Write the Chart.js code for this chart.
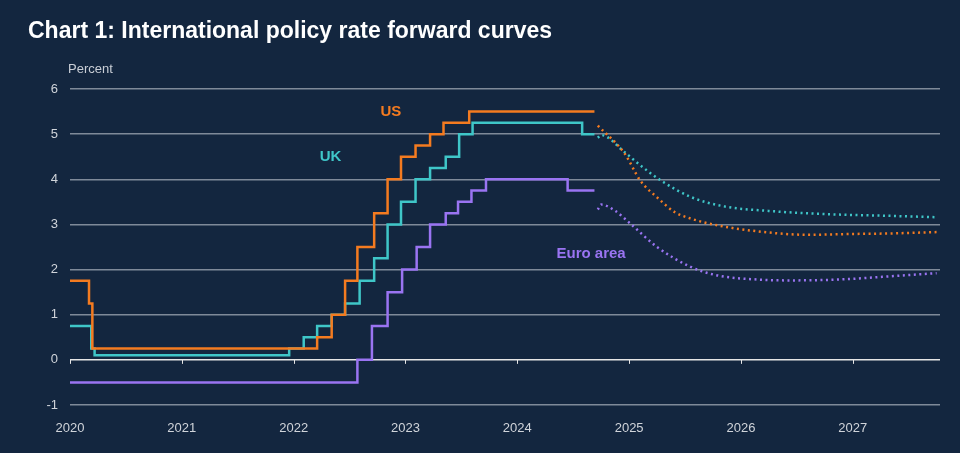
<!DOCTYPE html>
<html>
<head>
<meta charset="utf-8">
<script src="https://cdn.jsdelivr.net/npm/chart.js@4"></script>
<style>
  html, body { margin: 0; padding: 0; background: #13263f; }
  #wrap { width: 960px; height: 453px; }
</style>
</head>
<body>
<div id="wrap"><canvas id="ratesChart" width="960" height="453"></canvas></div>
<script>
'use strict';
// policy rates: [decimal year, rate] step start points
var usRates = [
    [2020.0, 1.75], [2020.17, 1.25], [2020.2, 0.25], [2022.21, 0.5], [2022.34, 1.0],
    [2022.46, 1.75], [2022.57, 2.5], [2022.72, 3.25], [2022.84, 4.0], [2022.96, 4.5],
    [2023.09, 4.75], [2023.22, 5.0], [2023.34, 5.25], [2023.57, 5.5], [2024.69, 5.5]
];
var ukRates = [
    [2020.0, 0.75], [2020.19, 0.25], [2020.22, 0.1], [2021.96, 0.25], [2022.09, 0.5],
    [2022.21, 0.75], [2022.34, 1.0], [2022.46, 1.25], [2022.59, 1.75], [2022.72, 2.25],
    [2022.84, 3.0], [2022.96, 3.5], [2023.09, 4.0], [2023.22, 4.25], [2023.36, 4.5],
    [2023.48, 5.0], [2023.6, 5.25], [2024.58, 5.0], [2024.69, 5.0]
];
var euroRates = [
    [2020.0, -0.5], [2022.57, 0.0], [2022.7, 0.75], [2022.84, 1.5], [2022.97, 2.0],
    [2023.1, 2.5], [2023.22, 3.0], [2023.36, 3.25], [2023.47, 3.5], [2023.59, 3.75],
    [2023.72, 4.0], [2024.45, 3.75], [2024.69, 3.75]
];
// market-implied forward curves
var usForward = [
    [2024.72, 5.19], [2024.96, 4.57], [2025.10, 3.97], [2025.25, 3.6], [2025.41, 3.27],
    [2025.55, 3.13], [2025.79, 2.98], [2026.14, 2.85], [2026.59, 2.77], [2027.03, 2.79],
    [2027.33, 2.8], [2027.75, 2.83]
];
var ukForward = [
    [2024.72, 4.92], [2024.75, 4.98], [2024.96, 4.6], [2025.1, 4.31], [2025.28, 3.98],
    [2025.55, 3.61], [2025.85, 3.4], [2026.3, 3.29], [2026.74, 3.23], [2027.33, 3.19],
    [2027.75, 3.16]
];
var euroForward = [
    [2024.72, 3.33], [2024.75, 3.44], [2024.87, 3.31], [2025.01, 3.02], [2025.25, 2.5],
    [2025.55, 2.06], [2025.79, 1.87], [2026.14, 1.78], [2026.44, 1.76], [2026.88, 1.78],
    [2027.33, 1.85], [2027.75, 1.92]
];
var yearTicks = [2020, 2021, 2022, 2023, 2024, 2025, 2026, 2027];
var seriesLabels = [
    { text: 'US', x: 2022.87, y: 5.5, color: '#f47b20' },
    { text: 'UK', x: 2022.33, y: 4.5, color: '#3fc6c8' },
    { text: 'Euro area', x: 2024.66, y: 2.35, color: '#9a74f2' }
];

var ORANGE = '#f47b20', CYAN = '#3fc6c8', PURPLE = '#9a74f2';

function pts (arr) {
    return arr.map(function (p) { return { x: p[0], y: p[1] }; });
}
function stepSet (arr, color) {
    return { data: pts(arr), borderColor: color, borderWidth: 2.5, stepped: 'before', pointRadius: 0 };
}
function dotSet (arr, color) {
    return { data: pts(arr), borderColor: color, borderWidth: 2.5, borderDash: [2, 3.5],
        cubicInterpolationMode: 'monotone', pointRadius: 0 };
}

var decorPlugin = {
    id: 'decor',
    afterDraw: function (chart) {
        var c = chart.ctx, xs = chart.scales.x, ys = chart.scales.y;
        c.save();
        c.fillStyle = '#ffffff';
        c.font = 'bold 23px "Liberation Sans", Arial, sans-serif';
        c.textBaseline = 'alphabetic';
        c.fillText('Chart 1: International policy rate forward curves', 28, 38);
        c.fillStyle = '#c9ced6';
        c.font = '13px "Liberation Sans", Arial, sans-serif';
        c.fillText('Percent', 68, 73);
        // year tick marks on the zero line
        var y0 = ys.getPixelForValue(0);
        c.strokeStyle = '#e6e6e6';
        c.lineWidth = 1;
        yearTicks.forEach(function (yr) {
            var px = Math.round(xs.getPixelForValue(yr)) + 0.5;
            c.beginPath(); c.moveTo(px, y0); c.lineTo(px, y0 + 4); c.stroke();
        });
        c.font = 'bold 15px "Liberation Sans", Arial, sans-serif';
        c.textAlign = 'center';
        c.textBaseline = 'middle';
        seriesLabels.forEach(function (l) {
            c.fillStyle = l.color;
            c.fillText(l.text, xs.getPixelForValue(l.x), ys.getPixelForValue(l.y));
        });
        c.restore();
    }
};

new Chart(document.getElementById('ratesChart').getContext('2d'), {
    type: 'line',
    data: {
        datasets: [
            stepSet(usRates, ORANGE), stepSet(ukRates, CYAN), stepSet(euroRates, PURPLE),
            dotSet(usForward, ORANGE), dotSet(ukForward, CYAN), dotSet(euroForward, PURPLE)
        ]
    },
    options: {
        responsive: false,
        animation: false,
        layout: { padding: { top: 89, right: 20, left: 0, bottom: 0 } },
        plugins: { legend: { display: false }, tooltip: { enabled: false } },
        scales: {
            x: {
                type: 'linear', min: 2020, max: 2027.78,
                afterBuildTicks: function (s) { s.ticks = yearTicks.map(function (v) { return { value: v }; }); },
                afterFit: function (s) { s.height = 48; },
                grid: { display: false },
                border: { display: false },
                ticks: { color: '#d0d4da', font: { size: 13, family: '"Liberation Sans", Arial' }, padding: 8,
                    maxRotation: 0, callback: function (v) { return String(v); } }
            },
            y: {
                min: -1, max: 6,
                afterFit: function (s) { s.width = 70; },
                border: { display: false },
                grid: { drawTicks: false, lineWidth: 1.5,
                    color: function (ctx) { return ctx.tick && ctx.tick.value === 0 ? '#e6e6e6' : '#7f8a99'; } },
                ticks: { stepSize: 1, color: '#d0d4da', padding: 12, font: { size: 13, family: '"Liberation Sans", Arial' } }
            }
        }
    },
    plugins: [decorPlugin]
});
</script>
</body>
</html>
